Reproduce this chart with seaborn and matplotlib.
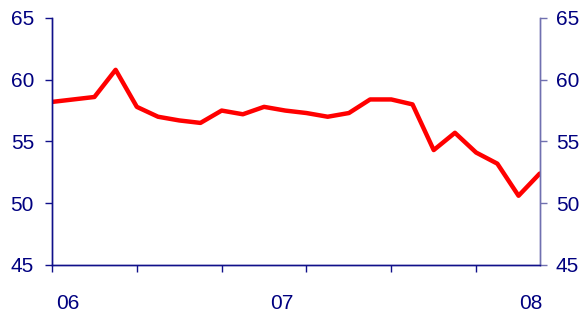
import matplotlib
matplotlib.use('Agg')
import matplotlib.pyplot as plt
import seaborn as sns
import pandas as pd

# Monthly values
months = list(range(24))
values = [58.2, 58.4, 58.6, 60.8, 57.8, 57.0, 56.7, 56.5, 57.5, 57.2, 57.8, 57.5,
          57.3, 57.0, 57.3, 58.4, 58.4, 58.0, 54.3, 55.7, 54.1, 53.2, 50.6, 52.4]
year_labels = ['06', '07', '08']
year_label_pos = [0.75, 10.85, 22.6]
major_ticks = [0, 4, 8, 12, 16, 20]
y_ticks = [45, 50, 55, 60, 65]

navy = '#10108a'
text_navy = '#000080'

sns.set_style('white')
plt.rcParams['font.family'] = ['Liberation Sans', 'DejaVu Sans']

df = pd.DataFrame({'month': months, 'value': values})

fig = plt.figure(figsize=(5.81, 3.15), dpi=100)
ax = fig.add_axes([0.0895, 0.159, 0.8395, 0.784])
sns.lineplot(data=df, x='month', y='value', ax=ax, color='#ff0000', linewidth=3.2)

ax.set_xlim(0, 23)
ax.set_ylim(45, 65)
ax.set_yticks(y_ticks)
ax.set_xticks(major_ticks)
ax.set_xticklabels([])
ax.set_xticks(year_label_pos, minor=True)
ax.set_xticklabels(year_labels, minor=True)
ax.set_xlabel('')
ax.set_ylabel('')

ax.tick_params(axis='x', which='major', direction='out', length=5, width=1, color=navy, bottom=True)
ax.tick_params(axis='x', which='minor', length=0, pad=21, labelsize=15, labelcolor=text_navy, bottom=True)
ax.tick_params(axis='y', direction='out', length=5, width=1, color=navy, labelsize=15,
               labelcolor=text_navy, left=True, pad=8)

# right hand axis, same scale
ax2 = ax.twinx()
ax2.set_ylim(45, 65)
ax2.set_yticks(y_ticks)
ax2.tick_params(axis='y', direction='out', length=5, width=1, color='#7070b0', labelsize=15,
                labelcolor=text_navy, right=True, pad=6.5)

for a in [ax, ax2]:
    a.spines['top'].set_visible(False)
    a.spines['left'].set_color(navy)
    a.spines['bottom'].set_color(navy)
    a.spines['right'].set_color('#7070b0')
    for side in ['left', 'bottom', 'right']:
        a.spines[side].set_linewidth(1)

plt.savefig('out.png', dpi=100)
plt.close()
